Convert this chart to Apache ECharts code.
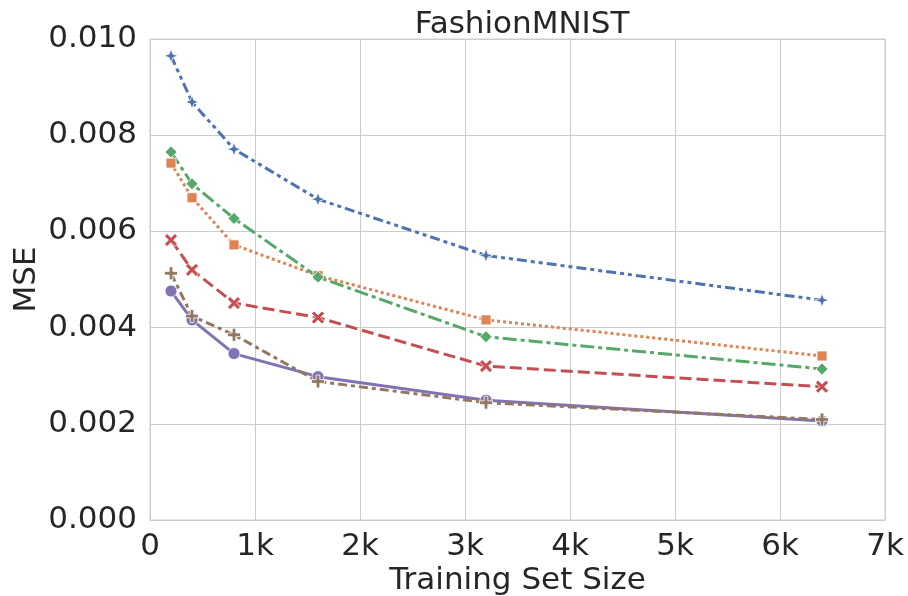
<!DOCTYPE html>
<html>
<head>
<meta charset="utf-8">
<script src="https://cdn.jsdelivr.net/npm/echarts@6/dist/echarts.min.js"></script>
<style>
  html, body { margin: 0; padding: 0; background: #fff; }
  #chart { width: 908px; height: 596px; }
</style>
</head>
<body>
<div id="chart"></div>
<script>
// training set sizes
const sizes = [200, 400, 800, 1600, 3200, 6400];

// MSE per run
const blueMse   = [0.00965, 0.00869, 0.00771, 0.00667, 0.00550, 0.00457];
const orangeMse = [0.00742, 0.00670, 0.00572, 0.00508, 0.00416, 0.00341];
const greenMse  = [0.00765, 0.00699, 0.00627, 0.00505, 0.00381, 0.00314];
const redMse    = [0.00582, 0.00520, 0.00451, 0.00421, 0.00320, 0.00277];
const purpleMse = [0.00476, 0.00416, 0.00346, 0.00298, 0.00249, 0.00206];
const brownMse  = [0.00513, 0.00424, 0.00385, 0.00288, 0.00244, 0.00209];

const yTicks = [0, 0.002, 0.004, 0.006, 0.008, 0.010];

const markers = {
  star: 'path://M5,0 L6.3,3.7 L10,5 L6.3,6.3 L5,10 L3.7,6.3 L0,5 L3.7,3.7 Z',
  cross: 'path://M2,0 L5,3 L8,0 L10,2 L7,5 L10,8 L8,10 L5,7 L2,10 L0,8 L3,5 L0,2 Z',
  plus: 'path://M3.6,0 H6.4 V3.6 H10 V6.4 H6.4 V10 H3.6 V6.4 H0 V3.6 H3.6 Z'
};

function makeSeries(name, values, color, dash, symbol, symbolSize) {
  return {
    name: name,
    type: 'line',
    data: sizes.map((s, i) => [s, values[i]]),
    symbol: symbol,
    symbolSize: symbolSize,
    showAllSymbol: true,
    lineStyle: { color: color, width: 3, type: dash, cap: 'butt' },
    itemStyle: { color: color, borderColor: '#fff', borderWidth: 0.8 },
    emphasis: { disabled: true },
    animation: false
  };
}

const chart = echarts.init(document.getElementById('chart'));
const font = 'DejaVu Sans';
const fs = 31;

chart.setOption({
  backgroundColor: '#fff',
  animation: false,
  title: {
    text: 'FashionMNIST',
    left: 517,
    textAlign: 'center',
    top: 4,
    textStyle: { fontFamily: font, fontSize: fs, fontWeight: 'normal', color: '#262626' }
  },
  grid: {
    left: 150, right: 23, top: 39, bottom: 76,
    outerBoundsMode: 'none', containLabel: false,
    show: true, borderColor: '#cccccc', borderWidth: 1
  },
  xAxis: {
    type: 'value',
    min: 0,
    max: 7000,
    interval: 1000,
    name: 'Training Set Size',
    nameLocation: 'middle',
    nameGap: 45,
    nameMoveOverlap: false,
    nameTextStyle: { fontFamily: font, fontSize: fs, color: '#262626' },
    axisLine: { show: false },
    axisTick: { show: false },
    axisLabel: {
      fontFamily: font, fontSize: fs, color: '#262626', margin: 11,
      formatter: v => v === 0 ? '0' : (v / 1000) + 'k'
    },
    splitLine: { show: true, lineStyle: { color: '#cccccc', width: 1 } }
  },
  yAxis: {
    type: 'value',
    min: yTicks[0],
    max: yTicks[yTicks.length - 1],
    interval: 0.002,
    name: 'MSE',
    nameLocation: 'middle',
    nameGap: 108,
    nameMoveOverlap: false,
    nameTextStyle: { fontFamily: font, fontSize: fs, color: '#262626' },
    axisLine: { show: false },
    axisTick: { show: false },
    axisLabel: {
      fontFamily: font, fontSize: fs, color: '#262626', margin: 13,
      formatter: v => v.toFixed(3)
    },
    splitLine: { show: true, lineStyle: { color: '#cccccc', width: 1 } }
  },
  series: [
    makeSeries('blue', blueMse, '#4c72b0', [10, 4, 4, 4, 4, 4], markers.star, 14),
    makeSeries('orange', orangeMse, '#dd8452', [3, 3], 'rect', 10),
    makeSeries('green', greenMse, '#55a868', [14, 4, 4, 4], 'diamond', 12),
    makeSeries('red', redMse, '#c44e52', [12, 5], markers.cross, 13),
    makeSeries('purple', purpleMse, '#8172b3', 'solid', 'circle', 12),
    makeSeries('brown', brownMse, '#937860', [9, 4, 4, 4], markers.plus, 13)
  ]
});
</script>
</body>
</html>
